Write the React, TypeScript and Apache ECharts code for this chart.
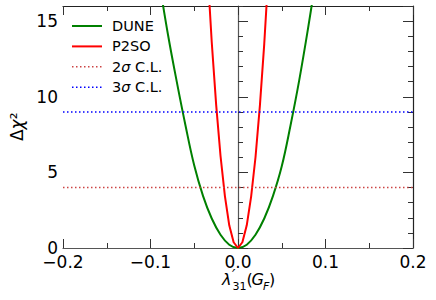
import React, { useEffect, useRef } from "react";
import * as echarts from "echarts";

const duneX = [-0.09, -0.08, -0.07, -0.06, -0.05, -0.04, -0.03, -0.02, -0.01, 0, 0.01, 0.02, 0.03, 0.04, 0.05, 0.06, 0.07, 0.08, 0.09];
const duneChi2 = [17.6, 14.1, 11.0, 8.1, 5.45, 3.45, 1.95, 0.88, 0.22, 0, 0.22, 0.88, 1.95, 3.45, 5.4, 8.1, 11.1, 14.5, 18.2];

const p2soX = [-0.035, -0.03, -0.025, -0.02, -0.015, -0.01, -0.005, 0, 0.005, 0.01, 0.015, 0.02, 0.025, 0.03, 0.035];
const p2soChi2 = [18.5, 13.6, 9.5, 6.1, 3.45, 1.5, 0.38, 0, 0.38, 1.5, 3.4, 6.0, 9.4, 13.5, 18.4];

const xRange = [-0.2, 0.2];
const clNames = ["2σ C.L.", "3σ C.L."];
const clValues = [4, 9];
const seriesNames = ["DUNE", "P2SO"];

const FONT = "DejaVu Sans";
const COLORS = ["#008000", "#ff0000", "#cc4444", "#0000ff"];

export default function App() {
  const ref = useRef<HTMLDivElement>(null);
  useEffect(() => {
    if (!ref.current) return;
    const chart = echarts.init(ref.current, undefined, { renderer: "svg" });
    const dotted = [1.5, 2.5];
    const tickLbl = { fontSize: 17, color: "#000", fontFamily: FONT };
    const xCommon = {
      type: "value" as const,
      min: xRange[0],
      max: xRange[1],
      interval: 0.1,
      splitLine: { show: false },
      axisTick: { show: true, inside: true, length: 9, lineStyle: { color: "#333", width: 1 } },
      minorTick: { show: true, splitNumber: 2, length: 5, lineStyle: { color: "#333", width: 1 } },
    };
    const yCommon = (interval: number, pos: string, tickLen: number, showLine: boolean, labels: boolean, color: string) => ({
      type: "value" as const,
      position: pos,
      min: 0,
      max: 16,
      interval,
      splitLine: { show: false },
      axisLine: { show: showLine, lineStyle: { color, width: 1.2 } },
      axisTick: { show: true, inside: true, length: tickLen, lineStyle: { color: "#333", width: 1 } },
      axisLabel: labels
        ? { show: true, ...tickLbl, margin: 5, showMaxLabel: false, formatter: (v: number) => (v === 16 ? "" : String(v)) }
        : { show: false },
    });

    const legendNames = [...seriesNames, ...clNames];
    const legendTop = 26;
    const legendStep = 20.4;
    const legendGraphics: any[] = [];
    legendNames.forEach((name, i) => {
      const y = legendTop + i * legendStep;
      const isDotted = i >= 2;
      legendGraphics.push({
        type: "line",
        shape: { x1: 72, y1: y, x2: 102, y2: y },
        style: {
          stroke: COLORS[i],
          lineWidth: isDotted ? 1.5 : 2,
          lineDash: isDotted ? dotted : null,
        },
      });
      legendGraphics.push({
        type: "text",
        x: 112,
        y: y,
        style: {
          text: name.replace("σ", "{s|σ}"),
          fontSize: 14.5,
          fontFamily: FONT,
          fill: "#000",
          verticalAlign: "middle",
          rich: { s: { fontStyle: "italic", fontSize: 14.5, fontFamily: FONT, fill: "#000" } },
        },
      });
    });

    const mainT = (text: string, x: number, y: number, size: number, italic: boolean) => ({
      type: "text",
      x,
      y,
      style: {
        text,
        fontSize: size,
        fontFamily: FONT,
        fontStyle: italic ? "italic" : "normal",
        fill: "#000",
        verticalAlign: "middle",
      },
    });

    chart.setOption({
      animation: false,
      grid: { left: 63, right: 23, top: 6, bottom: 52, containLabel: false },
      xAxis: [
        {
          ...xCommon,
          position: "bottom",
          axisLine: { show: true, onZero: false, lineStyle: { color: "#555", width: 1.2 } },
          axisLabel: {
            ...tickLbl,
            margin: 5,
            formatter: (v: number) => v.toFixed(1).replace("-", "\u2212"),
          },
        },
        {
          ...xCommon,
          position: "top",
          axisLine: { show: true, onZero: false, lineStyle: { color: "#222", width: 1.2 } },
          axisLabel: { show: false },
        },
      ],
      yAxis: [
        yCommon(5, "left", 10, true, true, "#555"),
        yCommon(1, "left", 5, false, false, "#555"),
        yCommon(5, "right", 10, true, false, "#222"),
        yCommon(1, "right", 5, false, false, "#222"),
      ],
      series: [
        {
          name: seriesNames[0],
          type: "line",
          smooth: 0.4,
          symbol: "none",
          data: duneX.map((x, i) => [x, duneChi2[i]]),
          lineStyle: { color: COLORS[0], width: 2 },
          itemStyle: { color: COLORS[0] },
        },
        {
          name: seriesNames[1],
          type: "line",
          symbol: "none",
          data: p2soX.map((x, i) => [x, p2soChi2[i]]),
          lineStyle: { color: COLORS[1], width: 2 },
          itemStyle: { color: COLORS[1] },
        },
        {
          name: clNames[0],
          type: "line",
          symbol: "none",
          data: xRange.map((x) => [x, clValues[0]]),
          lineStyle: { color: COLORS[2], width: 1.5, type: dotted },
          itemStyle: { color: COLORS[2] },
        },
        {
          name: clNames[1],
          type: "line",
          symbol: "none",
          data: xRange.map((x) => [x, clValues[1]]),
          lineStyle: { color: COLORS[3], width: 1.5, type: dotted },
          itemStyle: { color: COLORS[3] },
        },
      ],
      graphic: [
        ...legendGraphics,
        {
          type: "text",
          x: 8,
          y: 141,
          rotation: Math.PI / 2,
          style: {
            text: "{a|Δ}{b|χ}{c|²}",
            rich: {
              a: { fontSize: 17, fontFamily: FONT, fill: "#000" },
              b: { fontSize: 17, fontFamily: FONT, fontStyle: "italic", fill: "#000" },
              c: { fontSize: 17, fontFamily: FONT, fill: "#000" },
            },
          },
        },
        mainT("λ", 222, 279, 16, true),
        mainT("′", 232, 276, 15, true),
        mainT("31", 232.5, 286, 11, false),
        mainT("(", 246.5, 279, 16, false),
        mainT("G", 251.5, 279, 16, true),
        mainT("F", 263, 286, 11, true),
        mainT(")", 269, 279, 16, false),
      ],
    });
    return () => chart.dispose();
  }, []);
  return <div ref={ref} style={{ width: 436, height: 300, position: "absolute", left: 0, top: 0 }} />;
}
